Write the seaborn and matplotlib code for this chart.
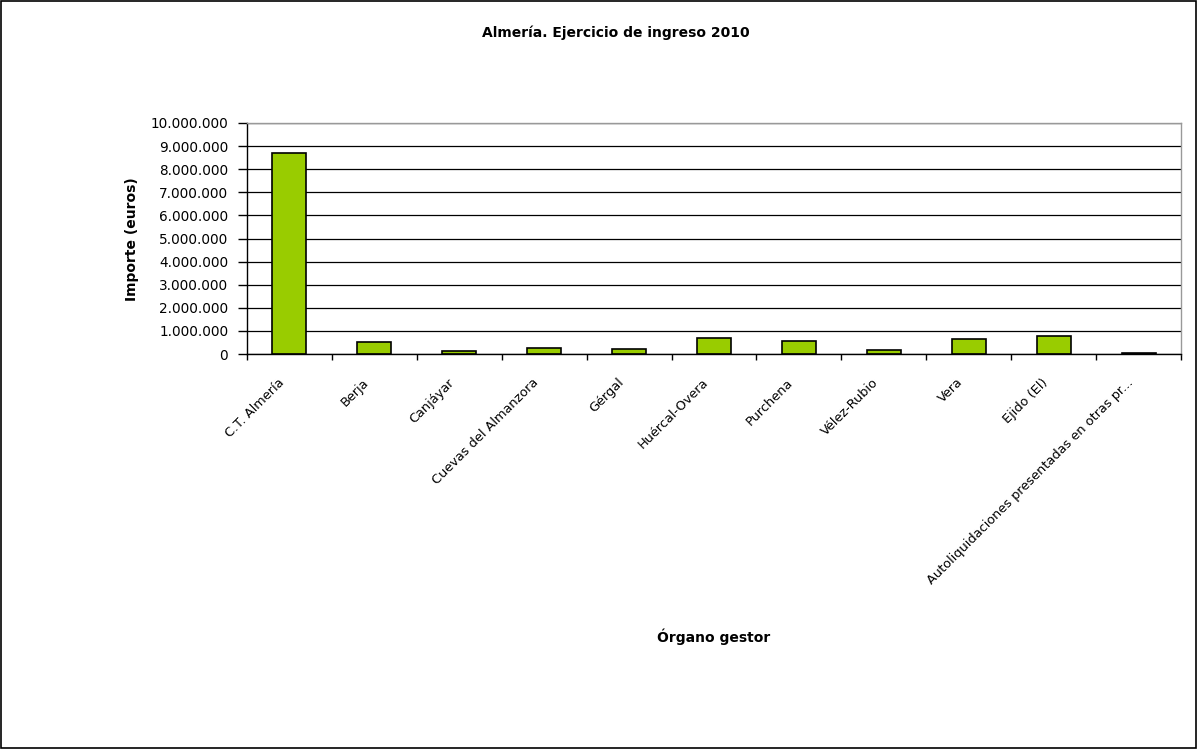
import matplotlib
matplotlib.use("Agg")
import matplotlib.pyplot as plt
import seaborn as sns
import pandas as pd
import numpy as np
from matplotlib.ticker import FuncFormatter, MultipleLocator, FixedLocator
from matplotlib.patches import Rectangle
from matplotlib.transforms import ScaledTranslation

categories = ["C.T. Almería", "Berja", "Canjáyar", "Cuevas del Almanzora", "Gérgal",
              "Huércal-Overa", "Purchena", "Vélez-Rubio", "Vera", "Ejido (El)",
              "Autoliquidaciones presentadas en otras pr..."]
values = [8720000, 500000, 150000, 280000, 200000, 690000, 560000, 160000, 630000, 790000, 30000]

title = "Almería. Ejercicio de ingreso 2010"
xlabel = "Órgano gestor"
ylabel = "Importe (euros)"

sns.set_theme(style="white")
plt.rcParams['font.family'] = ['DejaVu Sans']
plt.rcParams['text.color'] = 'black'
plt.rcParams['axes.labelcolor'] = 'black'
plt.rcParams['xtick.color'] = 'black'
plt.rcParams['ytick.color'] = 'black'

df = pd.DataFrame({"cat": categories, "val": values})

fig = plt.figure(figsize=(11.98, 7.49), dpi=100)
ax = fig.add_axes([247/1198, 1-354/749, (1181-247)/1198, (354-123)/749])

sns.barplot(data=df, x="cat", y="val", ax=ax, color="#99CC00", edgecolor="black",
            linewidth=1.2, width=0.4, saturation=1)

ax.set_ylim(0, 10000000)
ax.set_xlim(-0.5, len(categories)-0.5)
ax.yaxis.set_major_locator(MultipleLocator(1000000))
ax.yaxis.set_major_formatter(FuncFormatter(lambda v, p: f"{int(v):,}".replace(",", ".")))
ax.grid(axis="y", color="black", linewidth=0.9)
ax.set_axisbelow(True)

ax.set_xticks(range(len(categories)))
ax.set_xticklabels(categories, rotation=45, ha="right", va="center", rotation_mode="anchor", fontsize=9.3)
ax.xaxis.set_minor_locator(FixedLocator(np.arange(-0.5, len(categories), 1.0)))
ax.tick_params(axis="x", which="major", length=0, pad=19)
ax.tick_params(axis="x", which="minor", bottom=True, length=4, width=1, color="black", direction="out")
ax.tick_params(axis="y", left=True, length=6.5, width=1, color="black", direction="out", labelsize=9.8, pad=7)

offset = ScaledTranslation(-7.5/100, 0, fig.dpi_scale_trans)
for lbl in ax.get_xticklabels():
    lbl.set_transform(lbl.get_transform() + offset)

for s in ["left", "bottom"]:
    ax.spines[s].set_color("black")
    ax.spines[s].set_linewidth(1)
for s in ["top", "right"]:
    ax.spines[s].set_color("#999999")
    ax.spines[s].set_linewidth(1)

ax.set_xlabel("")
ax.set_ylabel("")
fig.text(714/1198, 1-637/749, xlabel, ha="center", va="center", fontsize=10, fontweight="bold")
fig.text(132/1198, 1-239/749, ylabel, ha="center", va="center", rotation=90, fontsize=10, fontweight="bold")
fig.text(616/1198, 1-33/749, title, ha="center", va="center", fontsize=10, fontweight="bold")

fig.patches.append(Rectangle((0.001, 0.002), 0.997, 0.996, transform=fig.transFigure,
                             fill=False, edgecolor="black", linewidth=1.2))

fig.savefig("out.png", dpi=100, facecolor="white")
